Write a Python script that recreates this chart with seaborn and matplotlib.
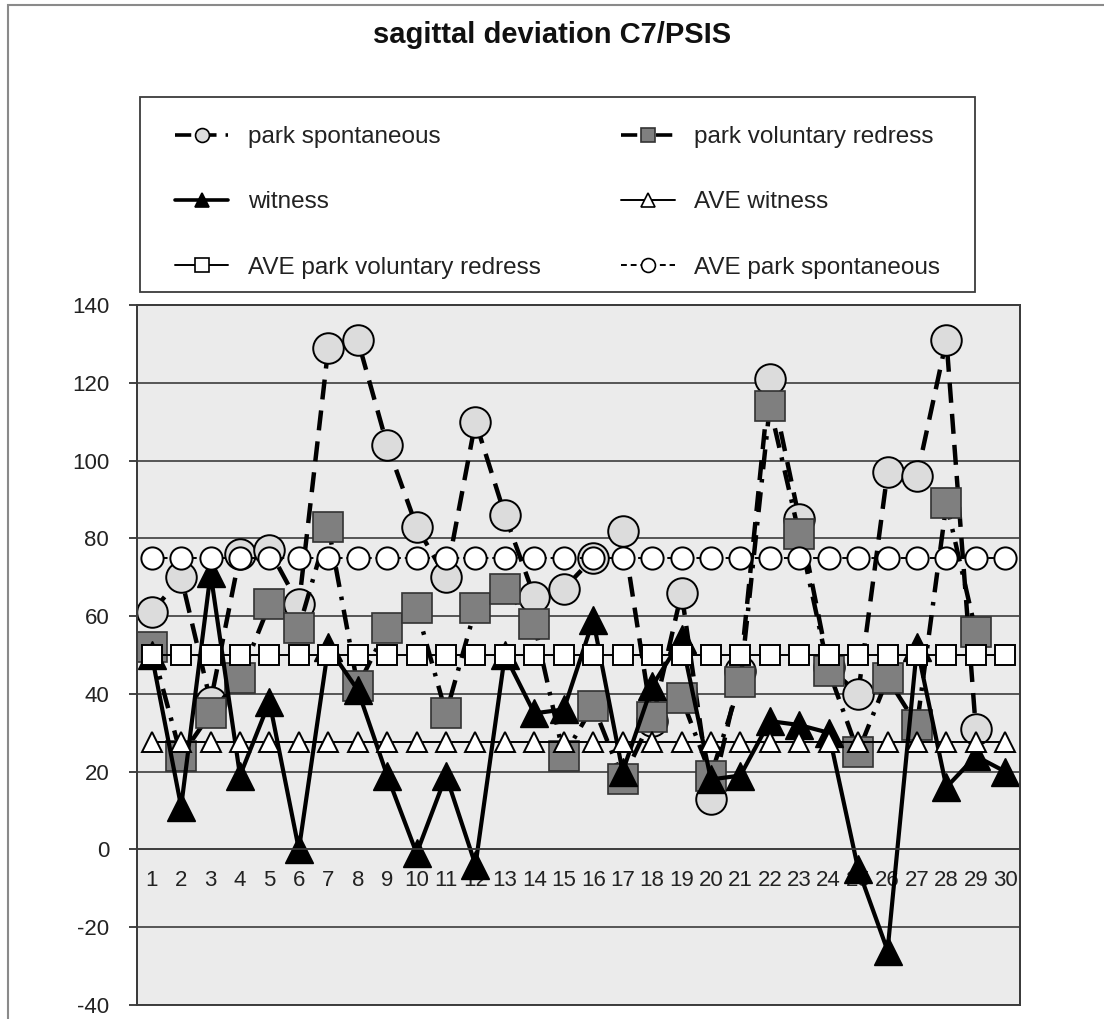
import numpy as np
import pandas as pd
import matplotlib
matplotlib.use("Agg")
import matplotlib.pyplot as plt
from matplotlib.lines import Line2D
from matplotlib.patches import Rectangle
import seaborn as sns

# ---- data -------------------------------------------------------------
subjects = list(range(1, 31))
park_spontaneous = [61, 70, 38, 76, 77, 63, 129, 131, 104, 83, 70, 110, 86, 65, 67,
                    75, 82, 33, 66, 13, 46, 121, 85, 47, 40, 97, 96, 131, 31, np.nan]
park_voluntary_redress = [52, 24, 35, 44, 63, 57, 83, 42, 57, 62, 35, 62, 67, 58, 24,
                          37, 18, 34, 39, 19, 43, 114, 81, 46, 25, 44, 32, 89, 56, np.nan]
witness = [50, 11, 71, 19, 38, 0, 52, 41, 19, -1, 19, -4, 50, 35, 36,
           59, 20, 42, 54, 18, 19, 33, 32, 30, -5, -26, 52, 16, 24, 20]
ave_witness = [27.7, 27.7, 27.7, 27.7, 27.7, 27.7, 27.7, 27.7, 27.7, 27.7,
               27.7, 27.7, 27.7, 27.7, 27.7, 27.7, 27.7, 27.7, 27.7, 27.7,
               27.7, 27.7, 27.7, 27.7, 27.7, 27.7, 27.7, 27.7, 27.7, 27.7]
ave_park_voluntary_redress = [50, 50, 50, 50, 50, 50, 50, 50, 50, 50,
                              50, 50, 50, 50, 50, 50, 50, 50, 50, 50,
                              50, 50, 50, 50, 50, 50, 50, 50, 50, 50]
ave_park_spontaneous = [75, 75, 75, 75, 75, 75, 75, 75, 75, 75,
                        75, 75, 75, 75, 75, 75, 75, 75, 75, 75,
                        75, 75, 75, 75, 75, 75, 75, 75, 75, 75]

y_ticks = [-40, -20, 0, 20, 40, 60, 80, 100, 120, 140]
title = "sagittal deviation C7/PSIS"

series = {
    "park spontaneous": park_spontaneous,
    "park voluntary redress": park_voluntary_redress,
    "witness": witness,
    "AVE witness": ave_witness,
    "AVE park voluntary redress": ave_park_voluntary_redress,
    "AVE park spontaneous": ave_park_spontaneous,
}

df = pd.DataFrame({"subject": subjects, **series})
long_df = df.melt(id_vars="subject", var_name="series", value_name="deviation")

# ---- styling ----------------------------------------------------------
sns.set_style("white")
plt.rcParams["font.family"] = ["Liberation Sans", "DejaVu Sans"]
plt.rcParams["axes.unicode_minus"] = False

styles = {
    "park spontaneous": dict(color="black", lw=3.2, ls=(0, (4.5, 2.5)),
                             marker="o", ms=22, mfc="#dcdcdc", mec="black", mew=1.4),
    "park voluntary redress": dict(color="black", lw=3.2, ls=(0, (4.5, 2.2, 0.8, 2.2)),
                                   marker="s", ms=21, mfc="#7f7f7f", mec="#333333", mew=1.2),
    "witness": dict(color="black", lw=3.0, ls="-",
                    marker="^", ms=20, mfc="black", mec="black", mew=1.0),
    "AVE witness": dict(color="black", lw=1.4, ls="-",
                        marker="^", ms=15, mfc="white", mec="black", mew=1.4),
    "AVE park voluntary redress": dict(color="black", lw=1.4, ls="-",
                                       marker="s", ms=15, mfc="white", mec="black", mew=1.4),
    "AVE park spontaneous": dict(color="black", lw=1.4, ls=(0, (3, 2)),
                                 marker="o", ms=16, mfc="white", mec="black", mew=1.4),
}

W, H = 1104, 1019
fig = plt.figure(figsize=(W / 100, H / 100), dpi=100)
fig.patch.set_facecolor("white")

# outer chart border
fig.add_artist(Rectangle((8 / W, -0.02), 1.02, 1.02 - 5 / H,
                         transform=fig.transFigure, fill=False,
                         edgecolor="#8a8a8a", lw=1.5))

ax = fig.add_axes([137 / W, 1 - 1005 / H, (1020 - 137) / W, (1005 - 305) / H])
ax.set_facecolor("#ebebeb")

for name in series:
    st = styles[name]
    sns.lineplot(data=long_df[long_df["series"] == name], x="subject", y="deviation",
                 ax=ax, estimator=None, sort=False, legend=False,
                 color=st["color"], linewidth=st["lw"], linestyle=st["ls"],
                 marker=st["marker"], markersize=st["ms"],
                 markerfacecolor=st["mfc"], mec=st["mec"], mew=st["mew"],
                 clip_on=False)

ax.set_xlim(0.5, 30.5)
ax.set_ylim(-40, 140)
ax.set_xlabel("")
ax.set_ylabel("")

# horizontal gridlines
ax.set_yticks(y_ticks)
ax.yaxis.grid(True, color="#3c3c3c", lw=1.2)
ax.xaxis.grid(False)
ax.set_axisbelow(True)

# category axis crossing at zero, tick marks between categories
ax.spines["bottom"].set_position(("data", 0))
ax.spines["bottom"].set_color("#3c3c3c")
ax.spines["bottom"].set_linewidth(1.2)
ax.set_xticks(subjects)
ax.set_xticklabels([str(s) for s in subjects])
ax.set_xticks(np.arange(0.5, 31, 1.0), minor=True)
ax.tick_params(axis="x", which="major", length=0, pad=15, labelsize=16, colors="#222222")
ax.tick_params(axis="x", which="minor", length=5, width=1.2, direction="out", color="#3c3c3c")
ax.tick_params(axis="y", which="major", length=6, width=1.2, pad=14, labelsize=16,
               colors="#222222", left=True)

for side in ("left", "top", "right"):
    ax.spines[side].set_color("#3c3c3c")
    ax.spines[side].set_linewidth(1.4)
ax.add_patch(Rectangle((0, 0), 1, 1, transform=ax.transAxes, fill=False,
                       edgecolor="#3c3c3c", lw=1.4, clip_on=False, zorder=0.5))

# ---- legend -----------------------------------------------------------
# legend box
fig.add_artist(Rectangle((140 / W, 1 - 292 / H), (975 - 140) / W, (292 - 97) / H,
                         transform=fig.transFigure, facecolor="white",
                         edgecolor="#3c3c3c", lw=1.3, zorder=1))

def handle(name):
    st = styles[name]
    return Line2D([], [], color=st["color"], lw=min(st["lw"], 2.6), ls=st["ls"],
                  marker=st["marker"], markersize=10,
                  markerfacecolor=st["mfc"], markeredgecolor=st["mec"], markeredgewidth=1.2)

legend_order = ["park spontaneous", "witness", "AVE park voluntary redress",
                "park voluntary redress", "AVE witness", "AVE park spontaneous"]
leg = fig.legend([handle(n) for n in legend_order], legend_order, ncol=2,
                 loc="upper left", mode="expand",
                 bbox_to_anchor=(175 / W, 1 - 285 / H, (940 - 175) / W, (285 - 126) / H),
                 borderaxespad=0, borderpad=0, frameon=False,
                 fontsize=17.5, labelspacing=1.78,
                 handlelength=2.2, handletextpad=0.8, columnspacing=2.0)
leg.set_zorder(2)
for t in leg.get_texts():
    t.set_color("#222222")

fig.text(0.5, 1 - 35 / H, title, ha="center", va="center",
         fontsize=21, fontweight="bold", color="#111111")

fig.savefig("out.png", dpi=100)
